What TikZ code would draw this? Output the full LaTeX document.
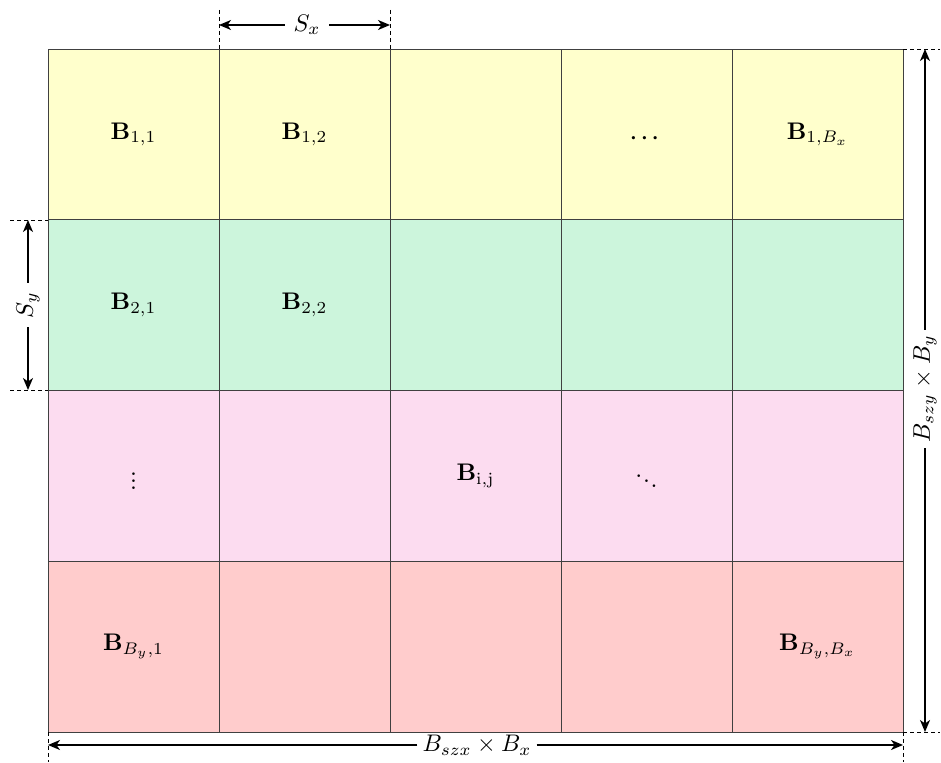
\documentclass[tikz,border=0pt]{standalone}
\usepackage{amsmath}
\usetikzlibrary{arrows.meta}
\definecolor{cyel}{RGB}{255,255,204}
\definecolor{cgrn}{RGB}{204,245,220}
\definecolor{cpnk}{RGB}{252,220,240}
\definecolor{cred}{RGB}{255,204,204}
\tikzset{
  cellbox/.style={draw=black!75,line width=0.7pt,minimum width=171pt,minimum height=171pt,inner sep=0pt},
  celltext/.style={scale=2.4,transform shape,inner sep=1pt},
  dotstext/.style={scale=1.7,transform shape,inner sep=1pt,font=\boldmath\bfseries},
  dimline/.style={draw=black,line width=1.5pt,-{Stealth[length=12pt,width=10pt,inset=3.5pt]}},
  guide/.style={draw=black,line width=0.9pt,dash pattern=on 4pt off 3pt},
  dimlabel/.style={scale=2.4,transform shape,inner sep=3.5pt}
}
\begin{document}
\begin{tikzpicture}[x=1pt,y=-1pt]
\useasboundingbox (0,0) rectangle (941,762);
% cells
\foreach \r/\col in {0/cyel,1/cgrn,2/cpnk,3/cred}{
  \foreach \c in {0,...,4}{
    \node[cellbox,fill=\col] (c\r\c) at ({48+171*\c+85.5},{49+170.75*\r+85.4}) {};
  }
}
\node[celltext] (t00) at (c00) {$\mathbf{B}_{1,1}$};
\node[celltext] (t01) at (c01) {$\mathbf{B}_{1,2}$};
\node[dotstext,scale=1.25] (t03) at ([yshift=-4pt]c03) {$\cdots$};
\node[celltext] (t04) at (c04) {$\mathbf{B}_{1,B_x}$};
\node[celltext] (t10) at (c10) {$\mathbf{B}_{2,1}$};
\node[celltext] (t11) at (c11) {$\mathbf{B}_{2,2}$};
\node[dotstext] (t20) at (c20) {$\vdots$};
\node[celltext] (t22) at (c22) {$\mathbf{B}_{\mathrm{i,j}}$};
\node[dotstext] (t23) at (c23) {$\ddots$};
\node[celltext] (t30) at (c30) {$\mathbf{B}_{B_y,1}$};
\node[celltext] (t34) at (c34) {$\mathbf{B}_{B_y,B_x}$};

% guide coordinates
\coordinate (gxa) at (219,10);  \coordinate (gxb) at (390,10);
\coordinate (gxa2) at (219,49); \coordinate (gxb2) at (390,49);
\coordinate (gya) at (10,220);  \coordinate (gyb) at (10,390);
\coordinate (gya2) at (48,220); \coordinate (gyb2) at (48,390);
\coordinate (gra) at (903,49);  \coordinate (grb) at (903,732);
\coordinate (gra2) at (940,49); \coordinate (grb2) at (940,732);
\coordinate (gba) at (48,732);  \coordinate (gbb) at (903,732);
\coordinate (gba2) at (48,762); \coordinate (gbb2) at (903,762);
\draw[guide] (gxa) -- (gxa2);
\draw[guide] (gxb) -- (gxb2);
\draw[guide] (gya) -- (gya2);
\draw[guide] (gyb) -- (gyb2);
\draw[guide] (gra) -- (gra2);
\draw[guide] (grb) -- (grb2);
\draw[guide] (gba) -- (gba2);
\draw[guide] (gbb) -- (gbb2);

% Sx
\coordinate (sxl) at (219,25); \coordinate (sxr) at (390,25);
\node[dimlabel] (sx) at (307,25) {$S_x$};
\draw[dimline] (sx) -- (sxl);
\draw[dimline] (sx) -- (sxr);
% Sy
\coordinate (syt) at (28,220); \coordinate (syb) at (28,390);
\node[dimlabel,rotate=90] (sy) at (28,305) {$S_y$};
\draw[dimline] (sy) -- (syt);
\draw[dimline] (sy) -- (syb);
% right
\coordinate (rt) at (925,49); \coordinate (rb) at (925,732);
\node[dimlabel,rotate=90,inner sep=2pt] (rl) at (925,389) {$B_{szy}\times B_y$};
\draw[dimline] (rl) -- (rt);
\draw[dimline] (rl) -- (rb);
% bottom
\coordinate (bl) at (48,745); \coordinate (br) at (903,745);
\node[dimlabel,inner sep=2pt] (bx) at (477,745) {$B_{szx}\times B_x$};
\draw[dimline] (bx) -- (bl);
\draw[dimline] (bx) -- (br);
\end{tikzpicture}
\end{document}
